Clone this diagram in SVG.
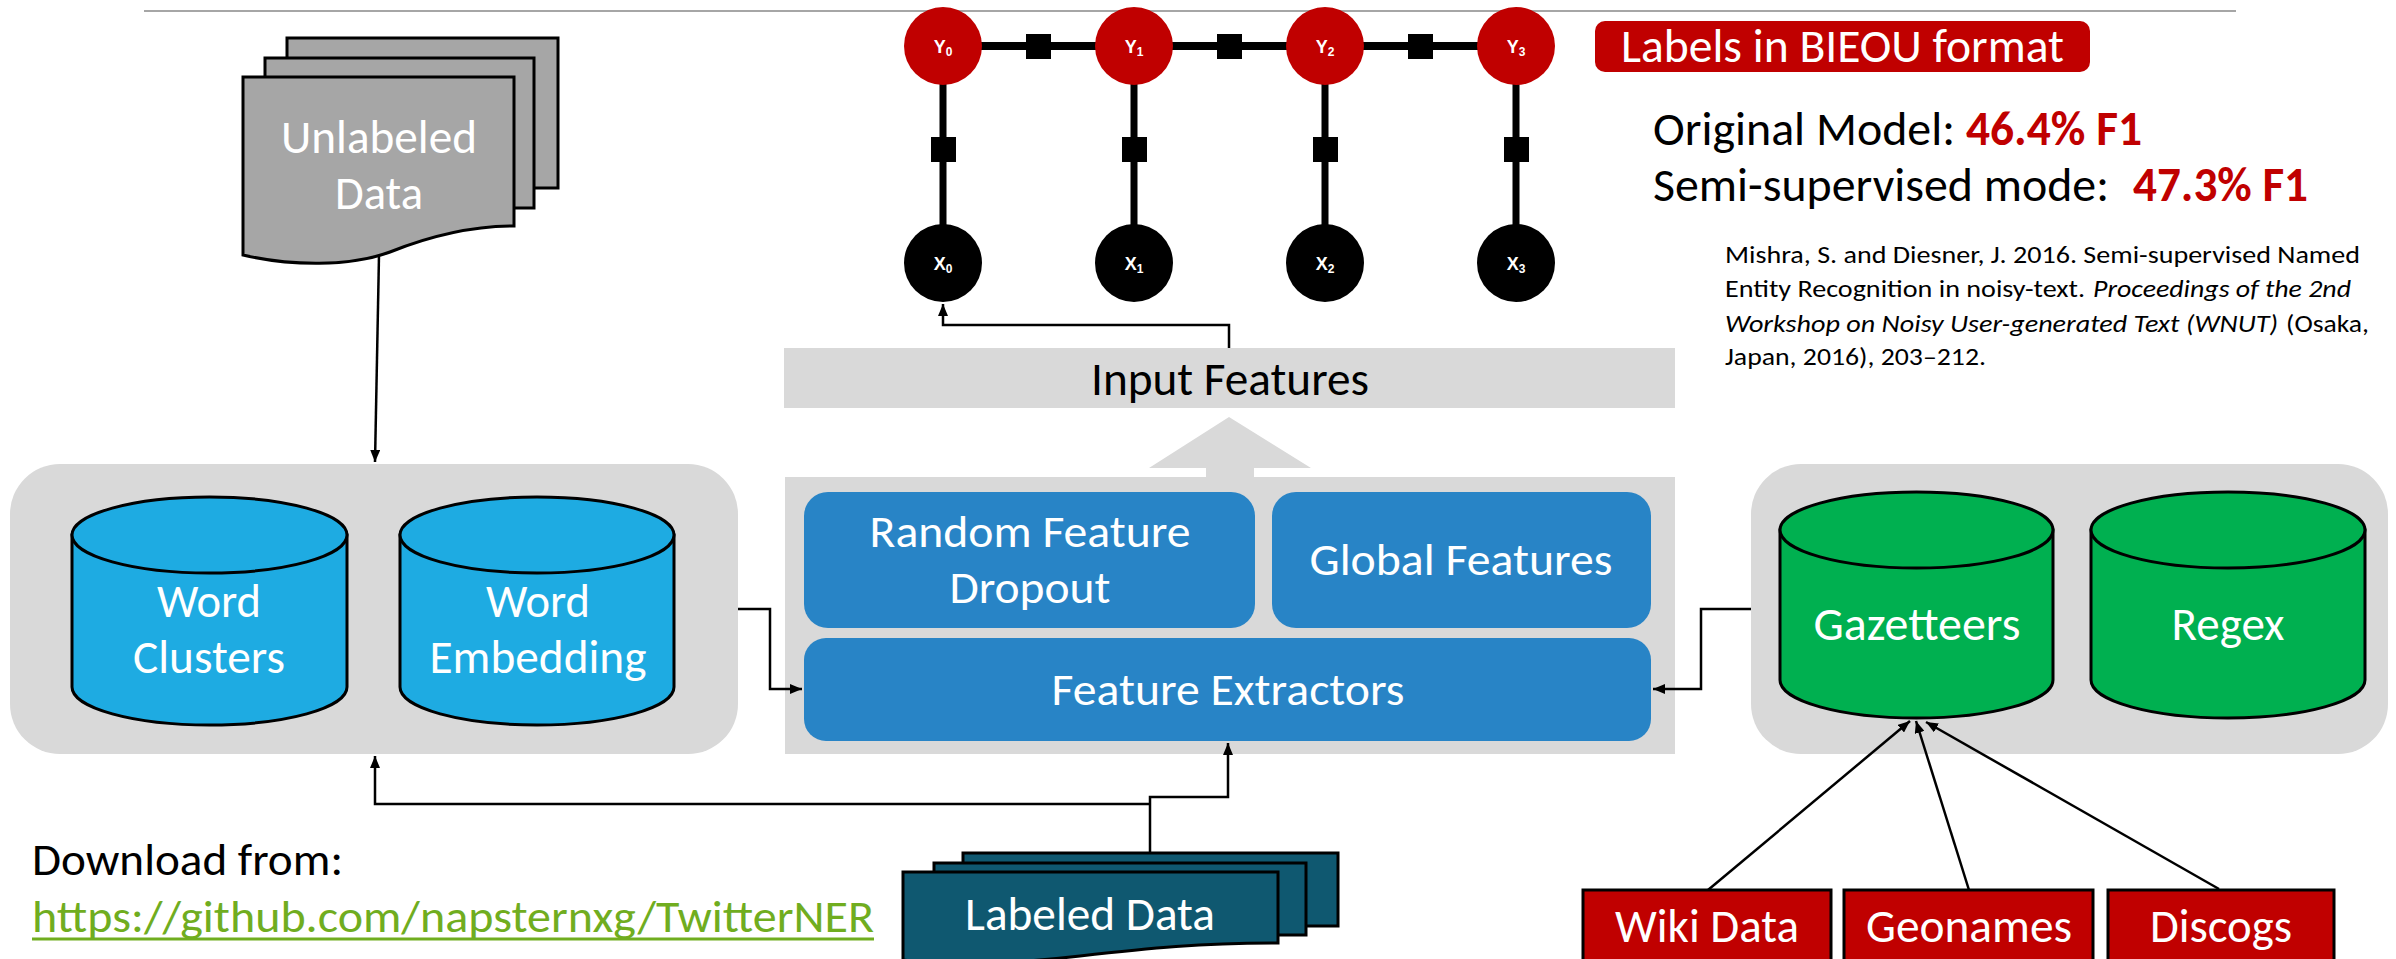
<svg xmlns="http://www.w3.org/2000/svg" width="2396" height="959" viewBox="0 0 2396 959">
<defs>
<style>
.t{font-family:Calibri,"Liberation Sans",Arial,sans-serif;}
.w{fill:#fff;font-size:48px;}
.k{fill:#000;font-size:48px;}
.r{fill:#c00000;font-size:48px;font-weight:bold;}
.c{fill:#000;font-size:25px;}
.i{font-style:italic;}
.node{font-family:"Liberation Sans",Arial,sans-serif;font-weight:bold;fill:#fff;font-size:18px;}
.sub{font-size:12px;}
.conn{fill:none;stroke:#000;stroke-width:2.5;}
.doc{stroke:#000;stroke-width:3;}
.cyl{stroke:#000;stroke-width:3;}
.panel{fill:#d9d9d9;}
.blue{fill:#2884c6;}
.src{fill:#c00000;stroke:#000;stroke-width:3;}
</style>
<marker id="ah" viewBox="0 0 12 10" refX="12" refY="5" markerWidth="12" markerHeight="10" markerUnits="userSpaceOnUse" orient="auto">
<path d="M0,0 L12,5 L0,10 Z" fill="#000"/>
</marker>
</defs>
<rect width="2396" height="959" fill="#fff"/>
<line x1="144" y1="11" x2="2236" y2="11" stroke="#a6a6a6" stroke-width="2"/>

<!-- panels -->
<g id="left-panel"><rect class="panel" x="10" y="464" width="728" height="290" rx="50"/></g>
<g id="right-panel"><rect class="panel" x="1751" y="464" width="637" height="290" rx="50"/></g>
<g id="feature-panel"><rect class="panel" x="785" y="477" width="890" height="277"/></g>
<g id="big-arrow"><polygon class="panel" points="1229,417 1311,468 1254,468 1254,477 1206,477 1206,468 1149,468"/></g>
<g id="input-features">
<rect class="panel" x="784" y="348" width="891" height="60"/>
<text class="t k" x="1230" y="395" text-anchor="middle" textLength="278" lengthAdjust="spacingAndGlyphs">Input Features</text>
</g>

<!-- connectors -->
<g id="connectors">
<path class="conn" d="M379,255 L375,462" marker-end="url(#ah)"/>
<path class="conn" d="M738,609 H770 V689 H802" marker-end="url(#ah)"/>
<path class="conn" d="M1751,609 H1701 V689 H1653" marker-end="url(#ah)"/>
<path class="conn" d="M1150,804 H375 V756" marker-end="url(#ah)"/>
<path class="conn" d="M1150,853 V797 H1228 V743" marker-end="url(#ah)"/>
<path class="conn" d="M1229,348 V325 H943 V304" marker-end="url(#ah)"/>
<path class="conn" d="M1708,890 L1910,721" marker-end="url(#ah)"/>
<path class="conn" d="M1969,890 L1916,721" marker-end="url(#ah)"/>
<path class="conn" d="M2219,889 L1926,722" marker-end="url(#ah)"/>
</g>

<!-- CRF chain -->
<g id="crf-edges" stroke="#000" fill="none">
<line x1="943" y1="46" x2="1516" y2="46" stroke-width="8"/>
<line x1="943" y1="80" x2="943" y2="228" stroke-width="7"/>
<line x1="1134" y1="80" x2="1134" y2="228" stroke-width="7"/>
<line x1="1325" y1="80" x2="1325" y2="228" stroke-width="7"/>
<line x1="1516" y1="80" x2="1516" y2="228" stroke-width="7"/>
</g>
<g id="factors" fill="#000">
<rect x="1026" y="34" width="25" height="25"/>
<rect x="1217" y="34" width="25" height="25"/>
<rect x="1408" y="34" width="25" height="25"/>
<rect x="931" y="137" width="25" height="25"/>
<rect x="1122" y="137" width="25" height="25"/>
<rect x="1313" y="137" width="25" height="25"/>
<rect x="1504" y="137" width="25" height="25"/>
</g>
<g id="y0"><circle cx="943" cy="46" r="39" fill="#c00000"/><text class="node" x="943" y="53" text-anchor="middle">Y<tspan class="sub" dy="3">0</tspan></text></g>
<g id="y1"><circle cx="1134" cy="46" r="39" fill="#c00000"/><text class="node" x="1134" y="53" text-anchor="middle">Y<tspan class="sub" dy="3">1</tspan></text></g>
<g id="y2"><circle cx="1325" cy="46" r="39" fill="#c00000"/><text class="node" x="1325" y="53" text-anchor="middle">Y<tspan class="sub" dy="3">2</tspan></text></g>
<g id="y3"><circle cx="1516" cy="46" r="39" fill="#c00000"/><text class="node" x="1516" y="53" text-anchor="middle">Y<tspan class="sub" dy="3">3</tspan></text></g>
<g id="x0"><circle cx="943" cy="263" r="39" fill="#000"/><text class="node" x="943" y="270" text-anchor="middle">X<tspan class="sub" dy="3">0</tspan></text></g>
<g id="x1"><circle cx="1134" cy="263" r="39" fill="#000"/><text class="node" x="1134" y="270" text-anchor="middle">X<tspan class="sub" dy="3">1</tspan></text></g>
<g id="x2"><circle cx="1325" cy="263" r="39" fill="#000"/><text class="node" x="1325" y="270" text-anchor="middle">X<tspan class="sub" dy="3">2</tspan></text></g>
<g id="x3"><circle cx="1516" cy="263" r="39" fill="#000"/><text class="node" x="1516" y="270" text-anchor="middle">X<tspan class="sub" dy="3">3</tspan></text></g>

<!-- Unlabeled data -->
<g id="unlabeled-data">
<rect class="doc" x="287" y="38" width="271" height="150" fill="#a6a6a6"/>
<rect class="doc" x="265" y="58" width="269" height="150" fill="#a6a6a6"/>
<path class="doc" fill="#a6a6a6" d="M243,77 H514 V226 C470,226 430,236 390,252 C350,267 290,266 243,255 Z"/>
<text class="t w" x="379" y="153" text-anchor="middle" textLength="196" lengthAdjust="spacingAndGlyphs">Unlabeled</text>
<text class="t w" x="379" y="209" text-anchor="middle" textLength="88" lengthAdjust="spacingAndGlyphs">Data</text>
</g>

<!-- cylinders -->
<g id="word-clusters">
<path class="cyl" fill="#1eabe2" d="M72,535 V687 A137.5,38 0 0 0 347,687 V535 Z"/>
<ellipse class="cyl" fill="#1eabe2" cx="209.5" cy="535" rx="137.5" ry="38"/>
<text class="t w" x="209" y="617" text-anchor="middle" textLength="104" lengthAdjust="spacingAndGlyphs">Word</text>
<text class="t w" x="209" y="673" text-anchor="middle" textLength="152" lengthAdjust="spacingAndGlyphs">Clusters</text>
</g>
<g id="word-embedding">
<path class="cyl" fill="#1eabe2" d="M400,535 V687 A137,38 0 0 0 674,687 V535 Z"/>
<ellipse class="cyl" fill="#1eabe2" cx="537" cy="535" rx="137" ry="38"/>
<text class="t w" x="538" y="617" text-anchor="middle" textLength="104" lengthAdjust="spacingAndGlyphs">Word</text>
<text class="t w" x="538" y="673" text-anchor="middle" textLength="217" lengthAdjust="spacingAndGlyphs">Embedding</text>
</g>
<g id="gazetteers">
<path class="cyl" fill="#00b050" d="M1780,530 V680 A136.5,38 0 0 0 2053,680 V530 Z"/>
<ellipse class="cyl" fill="#00b050" cx="1916.5" cy="530" rx="136.5" ry="38"/>
<text class="t w" x="1917" y="640" text-anchor="middle" textLength="207" lengthAdjust="spacingAndGlyphs">Gazetteers</text>
</g>
<g id="regex">
<path class="cyl" fill="#00b050" d="M2091,530 V680 A137,38 0 0 0 2365,680 V530 Z"/>
<ellipse class="cyl" fill="#00b050" cx="2228" cy="530" rx="137" ry="38"/>
<text class="t w" x="2228" y="640" text-anchor="middle" textLength="113" lengthAdjust="spacingAndGlyphs">Regex</text>
</g>

<!-- feature boxes -->
<g id="random-feature-dropout">
<rect class="blue" x="804" y="492" width="451" height="136" rx="24"/>
<text class="t w" style="font-size:46px" x="1030" y="547" text-anchor="middle" textLength="321" lengthAdjust="spacingAndGlyphs">Random Feature</text>
<text class="t w" style="font-size:46px" x="1030" y="603" text-anchor="middle" textLength="161" lengthAdjust="spacingAndGlyphs">Dropout</text>
</g>
<g id="global-features">
<rect class="blue" x="1272" y="492" width="379" height="136" rx="24"/>
<text class="t w" style="font-size:46px" x="1461" y="575" text-anchor="middle" textLength="303" lengthAdjust="spacingAndGlyphs">Global Features</text>
</g>
<g id="feature-extractors">
<rect class="blue" x="804" y="638" width="847" height="103" rx="22"/>
<text class="t w" style="font-size:46px" x="1228" y="705" text-anchor="middle" textLength="353" lengthAdjust="spacingAndGlyphs">Feature Extractors</text>
</g>

<!-- labeled data -->
<g id="labeled-data">
<rect class="doc" x="963" y="853" width="375" height="73" fill="#0f5870"/>
<rect class="doc" x="934" y="863" width="372" height="72" fill="#0f5870"/>
<path class="doc" fill="#0f5870" d="M903,872 H1278 V943 C1200,943 1150,948 1080,956 C1010,964 950,966 903,960 Z"/>
<text class="t w" x="1090" y="930" text-anchor="middle" textLength="250" lengthAdjust="spacingAndGlyphs">Labeled Data</text>
</g>

<!-- sources -->
<g id="wiki-data">
<rect class="src" x="1583" y="890" width="248" height="80"/>
<text class="t w" x="1707" y="942" text-anchor="middle" textLength="184" lengthAdjust="spacingAndGlyphs">Wiki Data</text>
</g>
<g id="geonames">
<rect class="src" x="1844" y="890" width="249" height="80"/>
<text class="t w" x="1969" y="942" text-anchor="middle" textLength="206" lengthAdjust="spacingAndGlyphs">Geonames</text>
</g>
<g id="discogs">
<rect class="src" x="2108" y="890" width="226" height="80"/>
<text class="t w" x="2221" y="942" text-anchor="middle" textLength="142" lengthAdjust="spacingAndGlyphs">Discogs</text>
</g>

<!-- labels / metrics -->
<g id="bieou-label">
<rect x="1595" y="21" width="495" height="51" rx="10" fill="#c00000"/>
<text class="t w" x="1621" y="62" textLength="443" lengthAdjust="spacingAndGlyphs">Labels in BIEOU format</text>
</g>
<g id="metrics">
<text class="t k" x="1653" y="145" textLength="302" lengthAdjust="spacingAndGlyphs">Original Model:</text>
<text class="t r" x="1966" y="145" textLength="176" lengthAdjust="spacingAndGlyphs">46.4% F1</text>
<text class="t k" x="1653" y="201" textLength="456" lengthAdjust="spacingAndGlyphs">Semi-supervised mode:</text>
<text class="t r" x="2133" y="201" textLength="175" lengthAdjust="spacingAndGlyphs">47.3% F1</text>
</g>
<g id="citation">
<text class="t c" x="1725" y="263" textLength="635" lengthAdjust="spacingAndGlyphs">Mishra, S. and Diesner, J. 2016. Semi-supervised Named</text>
<text class="t c" x="1725" y="297" textLength="360" lengthAdjust="spacingAndGlyphs">Entity Recognition in noisy-text.</text>
<text class="t c i" x="2093" y="297" textLength="258" lengthAdjust="spacingAndGlyphs">Proceedings of the 2nd</text>
<text class="t c i" x="1725" y="332" textLength="553" lengthAdjust="spacingAndGlyphs">Workshop on Noisy User-generated Text (WNUT)</text>
<text class="t c" x="2286" y="332" textLength="83" lengthAdjust="spacingAndGlyphs">(Osaka,</text>
<text class="t c" x="1725" y="365" textLength="261" lengthAdjust="spacingAndGlyphs">Japan, 2016), 203–212.</text>
</g>

<!-- download -->
<g id="download">
<text class="t k" style="font-size:46px" x="32" y="875" textLength="311" lengthAdjust="spacingAndGlyphs">Download from:</text>
<text class="t" style="font-size:46px;fill:#70ad1f" x="32" y="932" textLength="842" lengthAdjust="spacingAndGlyphs">https://github.com/napsternxg/TwitterNER</text>
<line x1="32" y1="939" x2="874" y2="939" stroke="#70ad1f" stroke-width="3"/>
</g>
</svg>
